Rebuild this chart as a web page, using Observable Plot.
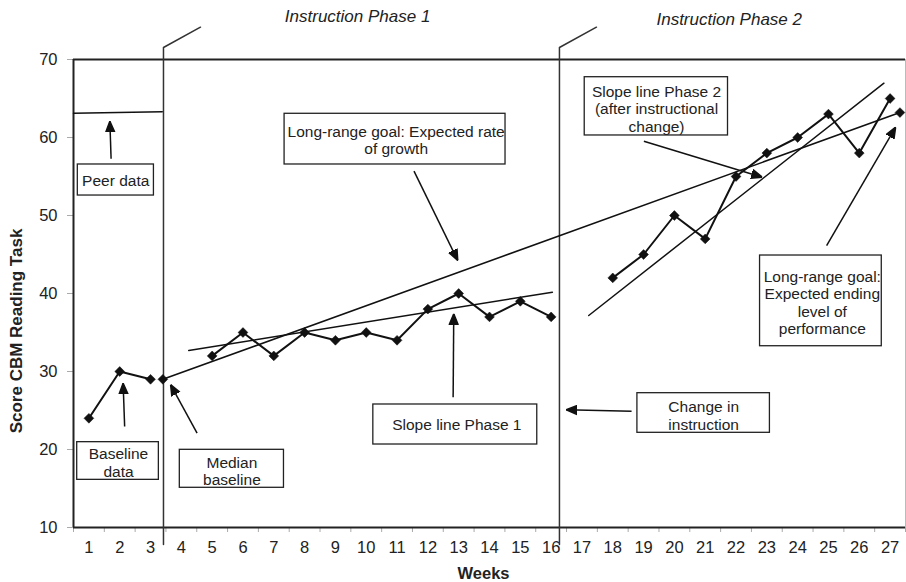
<!DOCTYPE html>
<html>
<head>
<meta charset="utf-8">
<script src="https://cdn.jsdelivr.net/npm/d3@7"></script>
<script src="https://cdn.jsdelivr.net/npm/@observablehq/plot@0.6"></script>
<style>
  body { margin: 0; background: #fff; }
  #chart svg { display: block; }
</style>
</head>
<body>
<div id="chart"></div>
<script>
// ---- Data ----
const weeks = d3.range(1, 28);                  // x tick labels 1..27
const yTicks = [10, 20, 30, 40, 50, 60, 70];

const baselineWeeks = [1, 2, 3];
const baselineScores = [24, 30, 29];

const phase1Weeks = [5, 6, 7, 8, 9, 10, 11, 12, 13, 14, 15, 16];
const phase1Scores = [32, 35, 32, 35, 34, 35, 34, 38, 40, 37, 39, 37];

const phase2Weeks = [18, 19, 20, 21, 22, 23, 24, 25, 26, 27];
const phase2Scores = [42, 45, 50, 47, 55, 58, 60, 63, 58, 65];

// goal line: median baseline -> expected ending level
const goalWeeks = [3.4, 27.32];
const goalScores = [29, 63.2];

const peerWeeks = [0.5, 3.38];
const peerScores = [63.1, 63.3];

const slope1Weeks = [4.24, 16.04];
const slope1Scores = [32.7, 40.17];

const slope2Weeks = [17.22, 26.8];
const slope2Scores = [37.18, 66.96];

const phaseChangeWeeks = [3.42, 16.27];
const phaseTitles = ["Instruction Phase 1", "Instruction Phase 2"];
const phaseTitleWeeks = [9.72, 21.78];
const phaseTitleScores = [75.55, 75.17];

// annotation boxes (in week / score units)
const boxLabels = ["Peer data", "Baseline\ndata", "Median\nbaseline",
  "Long-range goal: Expected rate\nof growth", "Slope line Phase 1",
  "Change in\ninstruction", "Slope line Phase 2\n(after instructional\nchange)",
  "Long-range goal:\nExpected ending\nlevel of\nperformance"];
const boxWeeks1 = [0.64, 0.62, 3.95, 7.35, 10.23, 18.80, 17.09, 22.78];
const boxWeeks2 = [3.11, 3.27, 7.33, 14.52, 15.55, 23.10, 21.74, 26.73];
const boxScores1 = [56.54, 20.94, 19.96, 63.04, 25.77, 27.22, 67.73, 44.87];
const boxScores2 = [52.56, 16.11, 15.09, 56.54, 20.64, 22.14, 60.26, 33.24];
const boxTextWeeks = [1.87, 1.96, 5.64, 10.97, 12.94, 20.95, 19.42, 24.80];
const boxTextScores = [54.55, 18.33, 17.24, 59.68, 23.2, 24.36, 63.68, 38.87];

// arrows: tail -> tip
const arrowWeeks1 = [1.72, 2.16, 4.51, 11.55, 12.82, 18.61, 19.01, 24.94];
const arrowScores1 = [57.27, 22.95, 22.09, 55.68, 26.7, 24.91, 59.53, 46.15];
const arrowWeeks2 = [1.68, 2.11, 3.65, 12.97, 12.84, 16.49, 22.85, 27.18];
const arrowScores2 = [62.09, 28.5, 28.33, 44.23, 37.4, 25.09, 54.91, 61.32];

// ---- tables built from arrays ----
const pts = (ws, ss) => ws.map((w, i) => ({week: w, score: ss[i]}));
const baseline = pts(baselineWeeks, baselineScores);
const phase1 = pts(phase1Weeks, phase1Scores);
const phase2 = pts(phase2Weeks, phase2Scores);
const goal = pts(goalWeeks, goalScores);
const peer = pts(peerWeeks, peerScores);
const slope1 = pts(slope1Weeks, slope1Scores);
const slope2 = pts(slope2Weeks, slope2Scores);
const boxes = boxLabels.map((t, i) => ({
  label: t, x1: boxWeeks1[i], x2: boxWeeks2[i], y1: boxScores1[i], y2: boxScores2[i],
  tx: boxTextWeeks[i], ty: boxTextScores[i]
}));
const arrows = arrowWeeks1.map((w, i) => ({
  x1: w, y1: arrowScores1[i], x2: arrowWeeks2[i], y2: arrowScores2[i]
}));
const phaseLines = phaseChangeWeeks.flatMap((w, i) => [
  {id: i, week: w, score: 7.82},
  {id: i, week: w, score: 71.54},
  {id: i, week: w + 1.2, score: 74.14}
]);
const titles = phaseTitles.map((t, i) => ({t, week: phaseTitleWeeks[i], score: phaseTitleScores[i]}));
const halfTicks = [0.5, ...weeks.map(w => w + 0.5)];

function filledArrow(color, context) {
  const doc = (context && context.document) || document;
  const ns = "http://www.w3.org/2000/svg";
  const m = doc.createElementNS(ns, "marker");
  m.setAttribute("viewBox", "-11 -5.5 11 11");
  m.setAttribute("refX", "0");
  m.setAttribute("refY", "0");
  m.setAttribute("markerWidth", "11");
  m.setAttribute("markerHeight", "11");
  m.setAttribute("markerUnits", "userSpaceOnUse");
  m.setAttribute("orient", "auto");
  const p = doc.createElementNS(ns, "path");
  p.setAttribute("d", "M0,0L-11,-4.5L-11,4.5Z");
  p.setAttribute("fill", color);
  m.appendChild(p);
  return m;
}

const ink = "#111";
const diamond = {symbol: "square", rotate: 45, r: 3.9, fill: ink, stroke: ink, strokeWidth: 0.5};

function build(useMarker) {
  const arrowMark = useMarker
    ? Plot.link(arrows, {x1: "x1", y1: "y1", x2: "x2", y2: "y2", stroke: ink, strokeWidth: 1.5, markerEnd: filledArrow})
    : Plot.arrow(arrows, {x1: "x1", y1: "y1", x2: "x2", y2: "y2", stroke: ink, strokeWidth: 1.6, headLength: 9, headAngle: 45});
  return Plot.plot({
    width: 906,
    height: 582,
    marginLeft: 73,
    marginRight: 1,
    marginTop: 59,
    marginBottom: 55,
    style: {fontFamily: "'Liberation Sans', Arial, sans-serif", background: "#fff", overflow: "visible"},
    x: {domain: [0.5, 27.5]},
    y: {domain: [10, 70]},
    marks: [
      Plot.axisY({ticks: yTicks, tickSize: 6, tickPadding: 10, stroke: "#aaa", fill: "#222", fontSize: 16.5, label: null}),
      Plot.axisX({ticks: weeks, tickSize: 0, tickPadding: 14, fill: "#222", fontSize: 16.5, label: null}),
      Plot.axisX({ticks: halfTicks, tickSize: 5, tickFormat: () => "", stroke: "#aaa", label: null}),
      Plot.ruleX([27.5], {stroke: "#bbb", strokeWidth: 1}),
      Plot.ruleY([70, 10], {stroke: "#222", strokeWidth: 2}),
      Plot.ruleX([0.5], {stroke: "#222", strokeWidth: 2}),
      Plot.line(phaseLines, {x: "week", y: "score", z: "id", stroke: "#333", strokeWidth: 1.5}),
      Plot.line(peer, {x: "week", y: "score", stroke: ink, strokeWidth: 1.5}),
      Plot.line(goal, {x: "week", y: "score", stroke: ink, strokeWidth: 1.6}),
      Plot.line(slope1, {x: "week", y: "score", stroke: ink, strokeWidth: 1.5}),
      Plot.line(slope2, {x: "week", y: "score", stroke: ink, strokeWidth: 1.5}),
      Plot.line(baseline, {x: "week", y: "score", stroke: ink, strokeWidth: 2}),
      Plot.line(phase1, {x: "week", y: "score", stroke: ink, strokeWidth: 2}),
      Plot.line(phase2, {x: "week", y: "score", stroke: ink, strokeWidth: 2}),
      Plot.dot(baseline, {x: "week", y: "score", ...diamond}),
      Plot.dot(phase1, {x: "week", y: "score", ...diamond}),
      Plot.dot(phase2, {x: "week", y: "score", ...diamond}),
      Plot.dot(goal, {x: "week", y: "score", ...diamond}),
      Plot.rect(boxes, {x1: "x1", x2: "x2", y1: "y1", y2: "y2", fill: "white", stroke: "#222", strokeWidth: 1.3}),
      Plot.text(boxes, {x: "tx", y: "ty", text: "label", fontSize: 15.5, lineHeight: 1.13, fill: "#222"}),
      arrowMark,
      Plot.text(titles, {x: "week", y: "score", text: "t", fontSize: 17, fontStyle: "italic", fill: "#222"}),
      Plot.text(["Score CBM Reading Task"], {text: d => d, frameAnchor: "left", textAnchor: "middle", lineAnchor: "middle", rotate: -90, dx: -57, dy: 37.5, fontSize: 17, fontWeight: "bold", fill: "#222"}),
      Plot.text(["Weeks"], {text: d => d, frameAnchor: "bottom", textAnchor: "middle", lineAnchor: "middle", dx: -6, dy: 46, fontSize: 16.5, fontWeight: "bold", fill: "#222"})
    ]
  });
}

let chart;
try { chart = build(true); } catch (e) { chart = build(false); }
document.getElementById("chart").append(chart);
</script>
</body>
</html>
